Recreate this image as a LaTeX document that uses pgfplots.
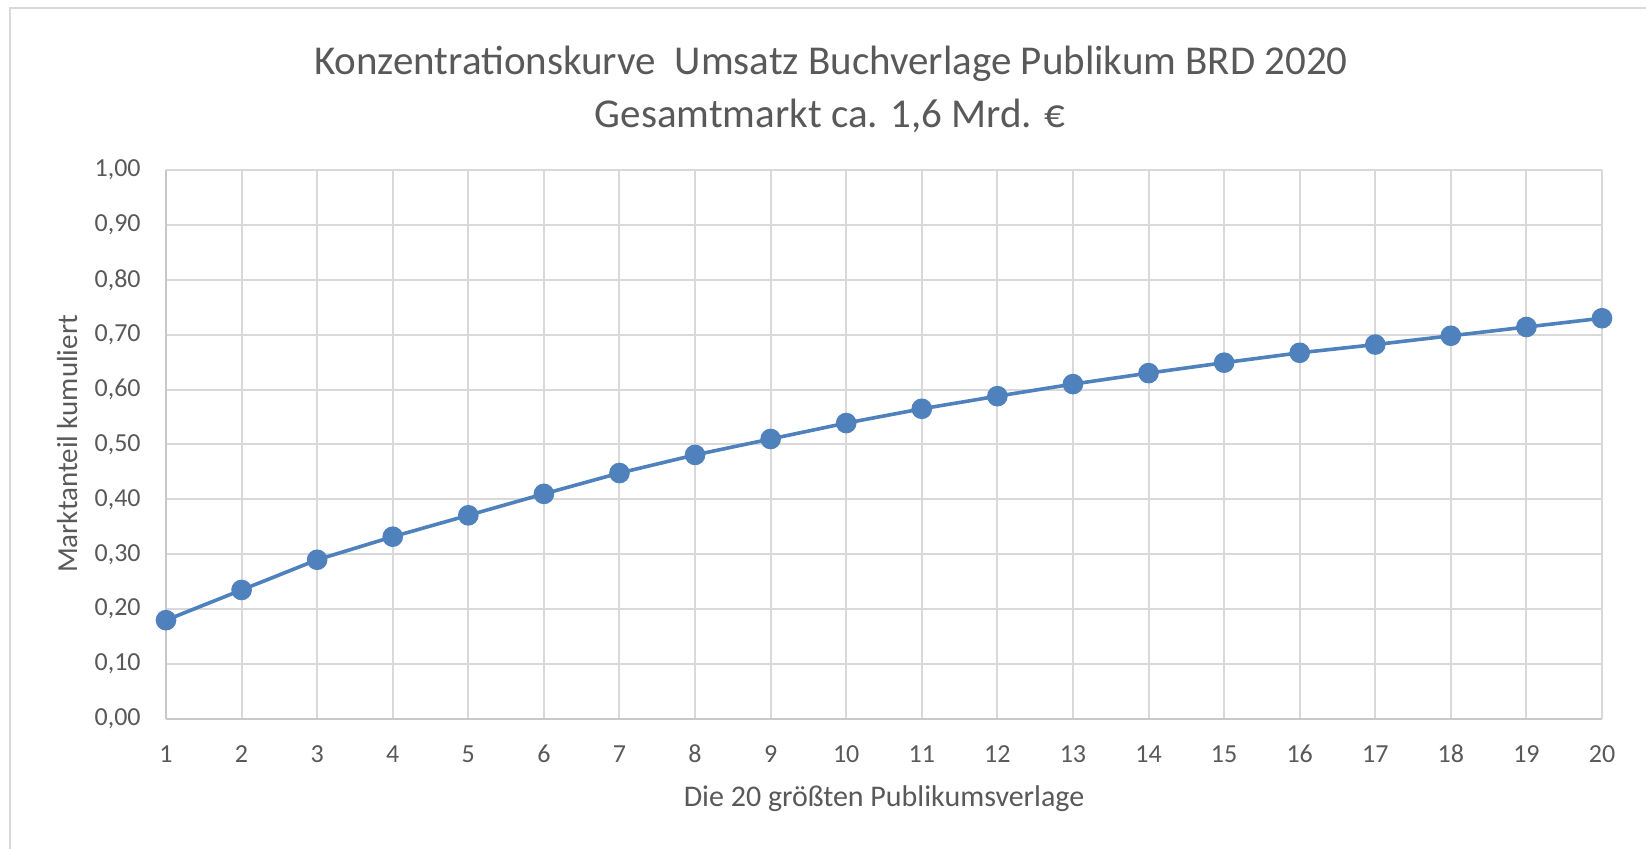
\documentclass[border=0pt]{standalone}
\usepackage{pgfplots}
\pgfplotsset{compat=1.18}
\usepackage{fontspec}
\setmainfont{Carlito}
\definecolor{txt}{HTML}{595959}
\definecolor{gridc}{HTML}{D9D9D9}
\definecolor{axc}{HTML}{C8C8C8}
\definecolor{serie}{HTML}{4F81BD}
\begin{document}
\begin{tikzpicture}
\useasboundingbox[fill=white] (0,0) rectangle (823pt,424.5pt);
\draw[gridc, line width=1pt] (5pt,0) -- (5pt,420.5pt) -- (823pt,420.5pt);
\begin{axis}[
  at={(83pt,65pt)}, anchor=south west,
  scale only axis, width=718pt, height=274.5pt,
  xmin=1, xmax=20, ymin=0, ymax=1,
  xtick={1,...,20},
  ytick={0,0.1,...,1.0001},
  grid=major,
  major grid style={gridc, line width=1pt},
  major tick length=0pt,
  axis x line*=bottom, axis y line*=left,
  axis line style={axc, line width=1.3pt, -},
  /pgf/number format/assume math mode=true,
  yticklabel={\pgfmathprintnumber[fixed,fixed zerofill,precision=2,use comma]{\tick}},
  xticklabel={\pgfmathprintnumber{\tick}},
  tick label style={font=\fontsize{13pt}{15pt}\selectfont, text=txt},
  y tick label style={anchor=east, inner sep=0pt, xshift=-12.5pt},
  x tick label style={anchor=base, inner sep=0pt, yshift=-22pt},
  clip=false,
]
\addplot[serie, line width=1.8pt, mark=*, mark size=4.25pt, mark options={fill=serie, draw=serie}]
coordinates {
(1,0.180) (2,0.235) (3,0.290) (4,0.332) (5,0.371)
(6,0.410) (7,0.448) (8,0.481) (9,0.510) (10,0.539)
(11,0.565) (12,0.588) (13,0.610) (14,0.630) (15,0.649)
(16,0.667) (17,0.682) (18,0.698) (19,0.714) (20,0.730)
};
\end{axis}
\node[anchor=base, text=txt, font=\fontsize{20.5pt}{24pt}\selectfont] at (415.5pt,387pt) {Konzentrationskurve\ \ Umsatz Buchverlage Publikum BRD 2020};
\node[anchor=base, text=txt, font=\fontsize{20.5pt}{24pt}\selectfont] at (415pt,360.5pt) {Gesamtmarkt ca. 1,6 Mrd. €};
\node[anchor=base, text=txt, font=\fontsize{15pt}{17pt}\selectfont] at (442pt,21pt) {Die 20 größten Publikumsverlage};
\node[anchor=base, rotate=90, text=txt, font=\fontsize{14.5pt}{16pt}\selectfont] at (38.5pt,202.5pt) {Marktanteil kumuliert};
\end{tikzpicture}
\end{document}
